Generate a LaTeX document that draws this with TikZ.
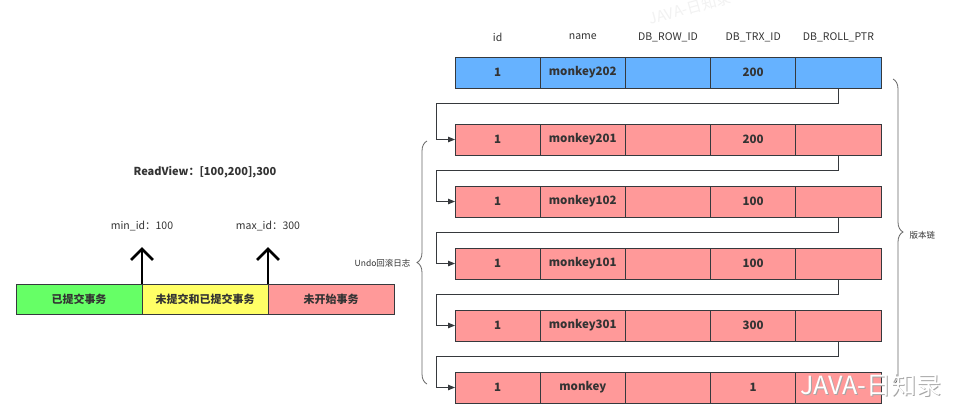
\documentclass[tikz,border=0pt]{standalone}
\usepackage{fontspec}
\setmainfont{Noto Sans CJK SC}
\usetikzlibrary{arrows.meta,decorations.pathreplacing,calc}
\definecolor{rowblue}{HTML}{66B2FF}
\definecolor{rowred}{HTML}{FF9999}
\definecolor{segg}{HTML}{66FF66}
\definecolor{segy}{HTML}{FFFF66}
\definecolor{edge}{HTML}{36393D}
\definecolor{txt}{HTML}{333333}
\begin{document}
\begin{tikzpicture}[x=1pt,y=-1pt,
  cell/.style={draw=edge,line width=0.8pt,minimum width=85.2pt,minimum height=31pt,inner sep=0pt,outer sep=0pt,font=\fontsize{11.5}{12}\selectfont\bfseries,text=txt},
  hdr/.style={font=\fontsize{10.5}{12}\selectfont,text=txt},
  conn/.style={draw=edge,line width=0.8pt,-{Triangle[length=7pt,width=5.5pt]}},
  seg/.style={draw=edge,line width=0.8pt,minimum width=126pt,minimum height=30pt,inner sep=0pt,outer sep=0pt,font=\fontsize{11}{12}\selectfont\bfseries,text=txt},
  bigarrow/.style={draw=black,line width=2.8pt,-{Straight Barb[length=11pt,width=22pt]}},
  lbl/.style={font=\fontsize{10.5}{12}\selectfont,text=txt},
  bracestyle/.style={draw=gray!80!black,line width=0.8pt,decorate,decoration={brace,amplitude=10pt}},
  small/.style={font=\fontsize{8.5}{10}\selectfont,text=txt}]
\useasboundingbox (0,0) rectangle (962,416);
\fill[white] (0,0) rectangle (962,416);
% faint watermark
\node[font=\fontsize{15}{17}\selectfont,text=gray!10,rotate=15] (wm1) at (690,8) {JAVA-日知录};
% headers
\node[hdr] (h1) at (497.6,37) {id};
\node[hdr] (h2) at (582.8,37) {name};
\node[hdr] (h3) at (668,37) {DB\_ROW\_ID};
\node[hdr] (h4) at (753.2,37) {DB\_TRX\_ID};
\node[hdr] (h5) at (838.4,37) {DB\_ROLL\_PTR};
% rows
\foreach \i/\y/\c/\n/\t in {1/72.5/rowblue/monkey202/200,2/139.5/rowred/monkey201/200,3/201.5/rowred/monkey102/100,4/263.5/rowred/monkey101/100,5/325.5/rowred/monkey301/300,6/387.5/rowred/monkey/1}{
  \node[cell,fill=\c] (r\i-c1) at (497.6,\y) {1};
  \node[cell,fill=\c] (r\i-c2) at (582.8,\y) {\n};
  \node[cell,fill=\c] (r\i-c3) at (668,\y) {};
  \node[cell,fill=\c] (r\i-c4) at (753.2,\y) {\t};
  \node[cell,fill=\c] (r\i-c5) at (838.4,\y) {};
}
% connectors
\foreach \i/\j in {1/2,2/3,3/4,4/5,5/6}{
  \draw[conn] (r\i-c5.south) -- ++(0,15.5) -| ($(r\j-c1.west)+(-19,0)$) -- (r\j-c1.west);
}
% braces
\coordinate (lbB) at (427,384);
\coordinate (lbT) at (427,141);
\draw[bracestyle] (lbB) -- (lbT);
\node[small,anchor=east] (undo) at (414,263.5) {Undo回滚日志};
\coordinate (rbT) at (893,79);
\coordinate (rbB) at (893,385);
\draw[bracestyle] (rbT) -- (rbB);
\node[small,anchor=west] (chain) at (906,235) {版本链};
% left part
\node[seg,fill=segg] (s1) at (79,299) {已提交事务};
\node[seg,fill=segy] (s2) at (205,299) {未提交和已提交事务};
\node[seg,fill=rowred] (s3) at (331,299) {未开始事务};
\node[font=\fontsize{11}{12}\selectfont\bfseries,text=txt] (rv) at (205,172) {ReadView：[100,200],300};
\node[lbl] (mn) at (142,226) {min\_id：100};
\node[lbl] (mx) at (268,226) {max\_id：300};
\coordinate (t1) at (142,247);
\coordinate (t2) at (268,247);
\draw[bigarrow] (s1.north east) -- (t1);
\draw[bigarrow] (s2.north east) -- (t2);
% watermark bottom right
\node[font=\fontsize{25}{27}\selectfont,text=gray!70] (wm2s) at (871.6,385.6) {JAVA-日知录};
\node[font=\fontsize{25}{27}\selectfont,text=white] (wm2) at (870.8,384.8) {JAVA-日知录};
\end{tikzpicture}
\end{document}
